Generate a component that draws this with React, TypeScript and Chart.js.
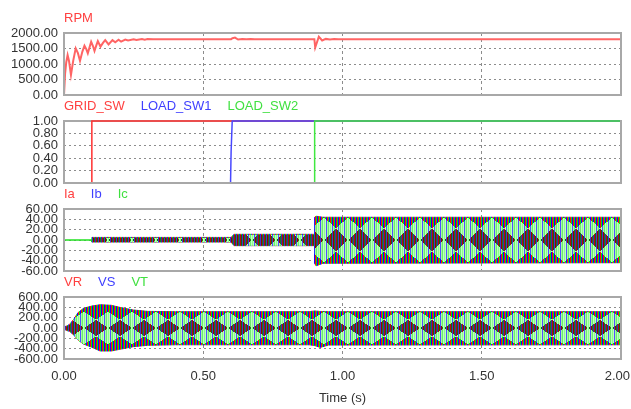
import React, { useEffect, useRef } from 'react';
import { Chart, registerables } from 'chart.js';

Chart.register(...registerables);

// ---------------- data ----------------
const timeTicks = [0, 0.5, 1.0, 1.5, 2.0];

const rpmSeries = ['RPM'];
const rpmTicks = [0, 500, 1000, 1500, 2000];
const rpmTimes = [
  0, 0.004, 0.008, 0.013, 0.018, 0.025, 0.033, 0.042, 0.05, 0.0575, 0.066, 0.0735, 0.08, 0.0855,
  0.092, 0.0975, 0.104, 0.1095, 0.116, 0.1215, 0.131, 0.14, 0.148, 0.16, 0.174, 0.184, 0.196,
  0.205, 0.22, 0.23, 0.25, 0.26, 0.28, 0.29, 0.3, 0.32, 0.6, 0.605, 0.614, 0.625, 0.64, 0.655,
  0.67, 0.685, 0.695, 0.899, 0.902, 0.915, 0.927, 0.94, 0.955, 0.97, 0.985, 1.0, 2.0,
];
const rpmValues = [
  0, 700, 1050, 1290, 1100, 645, 1100, 1505, 1350, 1100, 1400, 1590, 1480, 1345,
  1550, 1720, 1580, 1420, 1600, 1740, 1560, 1680, 1770, 1630, 1770, 1700, 1785,
  1720, 1790, 1760, 1795, 1775, 1805, 1785, 1805, 1800, 1800, 1830, 1850, 1790, 1810, 1795,
  1805, 1795, 1800, 1800, 1530, 1880, 1760, 1810, 1790, 1805, 1795, 1800, 1800,
];

const switchSeries = ['GRID_SW', 'LOAD_SW1', 'LOAD_SW2'];
const switchTicks = [0, 0.2, 0.4, 0.6, 0.8, 1.0];
const gridSwTimes = [0, 0.1, 0.1, 2.0];
const gridSwValues = [0, 0, 1, 1];
const loadSw1Times = [0, 0.598, 0.6, 0.604, 2.0];
const loadSw1Values = [0, 0, 0.5, 1, 1];
const loadSw2Times = [0, 0.9, 0.9, 2.0];
const loadSw2Values = [0, 0, 1, 1];

const currentSeries = ['Ia', 'Ib', 'Ic'];
const currentTicks = [-60, -40, -20, 0, 20, 40, 60];
const currentTimes = [0, 0.1, 0.1, 0.6, 0.6, 0.61, 0.9, 0.9, 0.905, 0.93, 2.0];
const currentUpper = [0, 0, 5, 5, 5, 11, 11, 44, 46, 44, 44];
const currentLower = [0, 0, -4, -4, -4, -11, -11, -45, -50, -45, -44];

const voltageSeries = ['VR', 'VS', 'VT'];
const voltageTicks = [-600, -400, -200, 0, 200, 400, 600];
const voltageTimes = [0, 0.01, 0.02, 0.035, 0.05, 0.07, 0.1, 0.13, 0.17, 0.2, 0.25, 0.3, 0.4, 0.88, 0.9, 0.92, 0.95, 2.0];
const voltageUpper = [20, 40, 70, 168, 296, 381, 425, 451, 439, 400, 348, 322, 316, 316, 330, 320, 316, 316];
const voltageLower = [-20, -50, -65, -135, -232, -310, -374, -445, -445, -413, -361, -335, -325, -325, -340, -375, -330, -325];

// ---------------- styles ----------------
const W = 631;
const H = 409;
const PLOT_H = 62;
const FONT = '"Liberation Sans", Arial, Helvetica, sans-serif';
const TICK_COLOR = '#333333';
const GRID_COLOR = '#8c8c8c';
const FRAME_COLOR = '#a8a8a8';
const RED = '#ff4040';
const BLUE = '#4040ff';
const GREEN = '#40e040';

const toXY = (xs: number[], ys: number[]) => xs.map((x, i) => ({ x, y: ys[i] }));

function makeLatticePattern(ctx: CanvasRenderingContext2D, height: number, center: number, half: number, period: number) {
  const off = document.createElement('canvas');
  off.width = period;
  off.height = height;
  const octx = off.getContext('2d')!;
  const img = octx.createImageData(period, height);
  const palettes = [
    [[180, 10, 10], [20, 100, 20], [60, 60, 200], [150, 0, 0], [30, 120, 30], [50, 50, 170]],
    [[140, 255, 140], [190, 255, 190], [80, 80, 255], [160, 255, 160], [110, 235, 110], [190, 255, 190]],
    [[255, 10, 10], [10, 225, 10], [10, 10, 255], [255, 10, 10], [10, 225, 10], [10, 10, 255]],
  ];
  for (let y = 0; y < height; y++) {
    for (let x = 0; x < period; x++) {
      const u = (x + 0.5) / (period / 2);
      const v = (y + 0.5 - center) / (half / 2);
      let bi = Math.round(u);
      let bj = Math.round(v);
      if (((bi + bj) & 1) !== 0) {
        const cands = [[bi + 1, bj], [bi - 1, bj], [bi, bj + 1], [bi, bj - 1]];
        let best = Infinity;
        for (const [ci, cj] of cands) {
          const d = Math.abs(u - ci) + Math.abs(v - cj);
          if (d < best) { best = d; bi = ci; bj = cj; }
        }
      }
      const row = Math.min(2, Math.abs(bj));
      const col = palettes[row][x % 6];
      const k = (y * period + x) * 4;
      img.data[k] = col[0];
      img.data[k + 1] = col[1];
      img.data[k + 2] = col[2];
      img.data[k + 3] = 255;
    }
  }
  octx.putImageData(img, 0, 0);
  return ctx.createPattern(off, 'repeat')!;
}

function makeStripePattern(ctx: CanvasRenderingContext2D) {
  const off = document.createElement('canvas');
  off.width = 3;
  off.height = 1;
  const octx = off.getContext('2d')!;
  ['#ff1010', '#10e010', '#1010ff'].forEach((c, i) => {
    octx.fillStyle = c;
    octx.fillRect(i, 0, 1, 1);
  });
  return ctx.createPattern(off, 'repeat')!;
}

const panelDecor = {
  id: 'panelDecor',
  beforeDatasetsDraw(chart: any) {
    const { ctx, chartArea: a } = chart;
    ctx.save();
    ctx.strokeStyle = FRAME_COLOR;
    ctx.lineWidth = 2;
    ctx.beginPath();
    ctx.moveTo(a.left - 1, a.top);
    ctx.lineTo(a.right + 1, a.top);
    ctx.stroke();
    ctx.restore();
  },
  afterDraw(chart: any, _a: any, opts: any) {
    const { ctx, chartArea: a } = chart;
    ctx.save();
    ctx.strokeStyle = FRAME_COLOR;
    ctx.lineWidth = 2;
    ctx.beginPath();
    ctx.moveTo(a.left, a.top - 1);
    ctx.lineTo(a.left, a.bottom);
    ctx.lineTo(a.right, a.bottom);
    ctx.lineTo(a.right, a.top - 1);
    ctx.stroke();
    ctx.font = `13px ${FONT}`;
    ctx.textBaseline = 'middle';
    ctx.textAlign = 'left';
    let x = a.left;
    (opts.titles as string[]).forEach((t, i) => {
      ctx.fillStyle = opts.colors[i];
      ctx.fillText(t, x, a.top - 15);
      x += ctx.measureText(t).width + 16;
    });
    if (opts.xLabels) {
      const xs = chart.scales.x;
      ctx.fillStyle = TICK_COLOR;
      ctx.textAlign = 'center';
      timeTicks.forEach((v) => {
        const s = v.toFixed(2);
        const w = ctx.measureText(s).width;
        let px = xs.getPixelForValue(v);
        px = Math.min(px, chart.width - w / 2 - 1);
        ctx.fillText(s, px, a.bottom + 17);
      });
    }
    ctx.restore();
  },
};

type Spec = {
  top: number;
  bottomAxis: boolean;
  yTicks: number[];
  titles: string[];
  titleColors: string[];
  datasets: any[];
  gridOnTop: boolean;
  bandSteady?: number;
};

function buildChart(canvas: HTMLCanvasElement, spec: Spec) {
  const xAxisH = spec.bottomAxis ? 50 : 0;
  const edgeGrid = (count: number) => (c: any) =>
    c.index === 0 || c.index === count - 1 ? 'rgba(0,0,0,0)' : GRID_COLOR;
  const tickFont = { family: FONT, size: 13 };
  const chart = new Chart(canvas, {
    type: 'line',
    data: { datasets: spec.datasets },
    plugins: [panelDecor],
    options: {
      responsive: false,
      animation: false,
      devicePixelRatio: 1,
      layout: { padding: { top: spec.top, bottom: H - spec.top - PLOT_H - xAxisH, left: 0, right: 10 } },
      elements: { point: { radius: 0 }, line: { tension: 0 } },
      plugins: {
        legend: { display: false },
        tooltip: { enabled: false },
        panelDecor: { titles: spec.titles, colors: spec.titleColors, xLabels: spec.bottomAxis },
      } as any,
      scales: {
        x: {
          type: 'linear',
          min: timeTicks[0],
          max: timeTicks[timeTicks.length - 1],
          z: spec.gridOnTop ? 1 : 0,
          afterBuildTicks: (s: any) => { s.ticks = timeTicks.map((v) => ({ value: v })); },
          afterFit: (s: any) => { s.height = xAxisH; s.paddingLeft = 0; s.paddingRight = 0; },
          grid: { color: edgeGrid(timeTicks.length), drawTicks: false, lineWidth: 1 },
          border: { display: false, dash: [3, 3] },
          ticks: { display: false },
          title: {
            display: spec.bottomAxis,
            text: 'Time (s)',
            color: TICK_COLOR,
            font: tickFont,
            padding: { top: 0, bottom: 3 },
          },
        },
        y: {
          type: 'linear',
          min: spec.yTicks[0],
          max: spec.yTicks[spec.yTicks.length - 1],
          z: spec.gridOnTop ? 1 : 0,
          afterBuildTicks: (s: any) => { s.ticks = spec.yTicks.map((v) => ({ value: v })); },
          afterFit: (s: any) => { s.width = 64; s.paddingTop = 0; s.paddingBottom = 0; },
          grid: { color: edgeGrid(spec.yTicks.length), drawTicks: false, lineWidth: 1 },
          border: { display: false, dash: [2, 3] },
          ticks: {
            padding: 6,
            color: TICK_COLOR,
            font: tickFont,
            autoSkip: false,
            callback: (v: any) => Number(v).toFixed(2),
          },
        },
      },
    } as any,
  });
  if (spec.bandSteady !== undefined) {
    const ys: any = chart.scales.y;
    const c = ys.getPixelForValue(0);
    const half = c - ys.getPixelForValue(spec.bandSteady);
    const fill = makeLatticePattern(chart.ctx, chart.height, c, half, 24);
    const edge = makeStripePattern(chart.ctx);
    chart.data.datasets.forEach((ds: any) => {
      ds.backgroundColor = fill;
      ds.borderColor = edge;
    });
    chart.update('none');
  }
  return chart;
}

const bandDatasets = (times: number[], upper: number[], lower: number[], zeroColor: string) => {
  const seg = {
    borderColor: (c: any) => (c.p0.parsed.y === 0 && c.p1.parsed.y === 0 ? zeroColor : undefined),
  };
  return [
    { data: toXY(times, upper), fill: '+1', borderWidth: 1, borderColor: GREEN, backgroundColor: GREEN, segment: seg },
    { data: toXY(times, lower), fill: false, borderWidth: 1, borderColor: GREEN, backgroundColor: GREEN, segment: seg },
  ];
};

export default function App() {
  const r1 = useRef<HTMLCanvasElement>(null);
  const r2 = useRef<HTMLCanvasElement>(null);
  const r3 = useRef<HTMLCanvasElement>(null);
  const r4 = useRef<HTMLCanvasElement>(null);

  useEffect(() => {
    document.body.style.margin = '0';
    const charts: Chart[] = [];
    charts.push(
      buildChart(r1.current!, {
        top: 33,
        bottomAxis: false,
        yTicks: rpmTicks,
        titles: rpmSeries,
        titleColors: [RED],
        gridOnTop: false,
        datasets: [{ data: toXY(rpmTimes, rpmValues), borderColor: '#ff6464', borderWidth: 2, fill: false }],
      })
    );
    charts.push(
      buildChart(r2.current!, {
        top: 121,
        bottomAxis: false,
        yTicks: switchTicks,
        titles: switchSeries,
        titleColors: [RED, BLUE, GREEN],
        gridOnTop: false,
        datasets: [
          { data: toXY(gridSwTimes, gridSwValues), borderColor: '#ff3030', borderWidth: 1.5, fill: false, order: 3, clip: false },
          { data: toXY(loadSw1Times, loadSw1Values), borderColor: '#4848ff', borderWidth: 1.5, fill: false, order: 2, clip: false },
          { data: toXY(loadSw2Times, loadSw2Values), borderColor: '#40e840', borderWidth: 1.5, fill: false, order: 1, clip: false },
        ],
      })
    );
    charts.push(
      buildChart(r3.current!, {
        top: 209,
        bottomAxis: false,
        yTicks: currentTicks,
        titles: currentSeries,
        titleColors: [RED, BLUE, GREEN],
        gridOnTop: true,
        bandSteady: currentUpper[currentUpper.length - 1],
        datasets: bandDatasets(currentTimes, currentUpper, currentLower, '#20e020'),
      })
    );
    charts.push(
      buildChart(r4.current!, {
        top: 297,
        bottomAxis: true,
        yTicks: voltageTicks,
        titles: voltageSeries,
        titleColors: [RED, BLUE, GREEN],
        gridOnTop: true,
        bandSteady: voltageUpper[voltageUpper.length - 1],
        datasets: bandDatasets(voltageTimes, voltageUpper, voltageLower, '#20e020'),
      })
    );
    return () => charts.forEach((c) => c.destroy());
  }, []);

  const cs: React.CSSProperties = { position: 'absolute', left: 0, top: 0, width: W, height: H };
  return (
    <div style={{ position: 'relative', width: W, height: H, background: '#ffffff', overflow: 'hidden' }}>
      <style>{'body{margin:0}'}</style>
      <canvas ref={r1} width={W} height={H} style={cs} />
      <canvas ref={r2} width={W} height={H} style={cs} />
      <canvas ref={r3} width={W} height={H} style={cs} />
      <canvas ref={r4} width={W} height={H} style={cs} />
    </div>
  );
}
